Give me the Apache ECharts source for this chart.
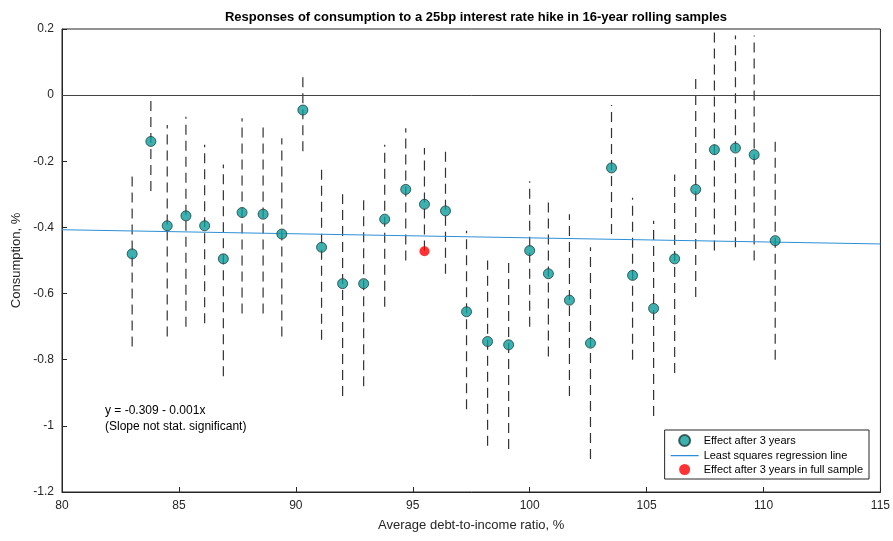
<!DOCTYPE html>
<html>
<head>
<meta charset="utf-8">
<script src="https://cdn.jsdelivr.net/npm/echarts@6/dist/echarts.min.js"></script>
<style>html,body{margin:0;padding:0;background:#fff}#chart{width:893px;height:541px}</style>
</head>
<body>
<div id="chart"></div>
<script>
// 滚动样本的平均负债收入比 (%)
const debtRatio = [83.0, 83.8, 84.5, 85.3, 86.1, 86.9, 87.7, 88.6, 89.4, 90.3, 91.1, 92.0, 92.9, 93.8, 94.7, 95.5, 96.4,
    97.3, 98.2, 99.1, 100.0, 100.8, 101.7, 102.6, 103.5, 104.4, 105.3, 106.2, 107.1, 107.9, 108.8, 109.6, 110.5];
// 3年后的消费效应
const effect = [-0.48, -0.14, -0.395, -0.365, -0.395, -0.495, -0.355, -0.36, -0.42, -0.045, -0.46, -0.57, -0.57, -0.375, -0.285, -0.33, -0.35,
    -0.655, -0.745, -0.755, -0.47, -0.54, -0.62, -0.75, -0.22, -0.545, -0.645, -0.495, -0.285, -0.165, -0.16, -0.18, -0.44];
// 置信区间上下界
const upper = [-0.245, 0.0, -0.09, -0.065, -0.15, -0.21, -0.07, -0.09, -0.13, 0.07, -0.22, -0.30, -0.30, -0.15, -0.10, -0.16, -0.16,
    -0.41, -0.50, -0.50, -0.26, -0.31, -0.36, -0.46, -0.03, -0.31, -0.38, -0.24, 0.05, 0.2, 0.18, 0.18, -0.13];
const lower = [-0.76, -0.29, -0.73, -0.70, -0.69, -0.85, -0.66, -0.66, -0.73, -0.17, -0.74, -0.91, -0.88, -0.64, -0.50, -0.47, -0.54,
    -0.95, -1.06, -1.07, -0.70, -0.79, -0.91, -1.10, -0.42, -0.80, -0.97, -0.84, -0.61, -0.47, -0.46, -0.50, -0.80];
// 回归线与全样本结果
const regression = [[80, -0.407], [115, -0.450]];
const fullSample = [[95.5, -0.472]];

const chart = echarts.init(document.getElementById('chart'));
const font = 'Liberation Sans, Arial, sans-serif';
const lineIcon = 'path://M0,0L0.01,0L0.01,0.01Z M0,5L28,5L28,6.2L0,6.2Z M27.99,11L28,11L28,10.99Z';

const option = {
    animation: false,
    title: {
        text: 'Responses of consumption to a 25bp interest rate hike in 16-year rolling samples',
        left: 471, top: 6, textAlign: 'center',
        textStyle: { fontSize: 13, fontWeight: 'bold', color: '#000', fontFamily: font }
    },
    grid: { left: 62, right: 12, top: 29, bottom: 49, show: true, borderColor: '#262626', borderWidth: 1 },
    xAxis: {
        type: 'value', min: 80, max: 115, interval: 5,
        name: 'Average debt-to-income ratio, %', nameLocation: 'middle', nameGap: 27,
        nameTextStyle: { fontSize: 13, color: '#262626', fontFamily: font },
        axisLine: { onZero: false, lineStyle: { color: '#262626' } },
        axisTick: { inside: true, length: 5 },
        axisLabel: { color: '#262626', fontSize: 12, fontFamily: font },
        splitLine: { show: false }
    },
    yAxis: {
        type: 'value', min: -1.2, max: 0.2, interval: 0.2,
        name: 'Consumption, %', nameLocation: 'middle', nameGap: 38,
        nameTextStyle: { fontSize: 13, color: '#262626', fontFamily: font },
        axisLine: { show: true, onZero: false, lineStyle: { color: '#262626' } },
        axisTick: { show: true, inside: true, length: 5 },
        axisLabel: { color: '#262626', fontSize: 12, fontFamily: font,
            formatter: v => Number(v.toFixed(1)).toString() },
        splitLine: { show: false }
    },
    legend: {
        orient: 'vertical', right: 24, bottom: 62, itemGap: 3, itemWidth: 28, itemHeight: 11,
        backgroundColor: '#fff', borderColor: '#262626', borderWidth: 1, borderRadius: 0, padding: [4, 6],
        textStyle: { fontSize: 11, color: '#000', fontFamily: font },
        data: [
            { name: 'Effect after 3 years', icon: 'circle' },
            { name: 'Least squares regression line', icon: lineIcon },
            { name: 'Effect after 3 years in full sample', icon: 'circle' }
        ]
    },
    graphic: [{
        type: 'text', left: 105, top: 403,
        style: { text: 'y = -0.309 - 0.001x\n(Slope not stat. significant)', fontSize: 12, lineHeight: 16, fill: '#000', fontFamily: font }
    }],
    series: [
        {
            name: 'errorbars', type: 'custom', silent: true, z: 2,
            data: debtRatio.map((x, i) => [x, lower[i], upper[i]]),
            renderItem: (params, api) => {
                const a = api.coord([api.value(0), api.value(1)]);
                const b = api.coord([api.value(0), api.value(2)]);
                return {
                    type: 'line', shape: { x1: a[0], y1: a[1], x2: b[0], y2: b[1] },
                    style: { stroke: '#333', lineWidth: 1.2, lineDash: [10, 6] }
                };
            }
        },
        {
            name: 'Least squares regression line', type: 'line', data: regression, symbol: 'none',
            lineStyle: { color: '#2c8fd6', width: 1 }, itemStyle: { color: '#2c8fd6' }, z: 3,
            markLine: {
                silent: true, symbol: 'none', label: { show: false },
                lineStyle: { color: '#444', width: 1, type: 'solid' }, data: [{ yAxis: 0 }]
            }
        },
        {
            name: 'Effect after 3 years', type: 'scatter', symbolSize: 10, z: 4,
            data: debtRatio.map((x, i) => [x, effect[i]]),
            itemStyle: { color: '#0c9e9b', borderColor: '#1f3d3d', borderWidth: 1 }
        },
        {
            name: 'Effect after 3 years in full sample', type: 'scatter', symbolSize: 10, z: 5,
            data: fullSample, itemStyle: { color: '#ff0000' }
        }
    ]
};
chart.setOption(option);
</script>
</body>
</html>
